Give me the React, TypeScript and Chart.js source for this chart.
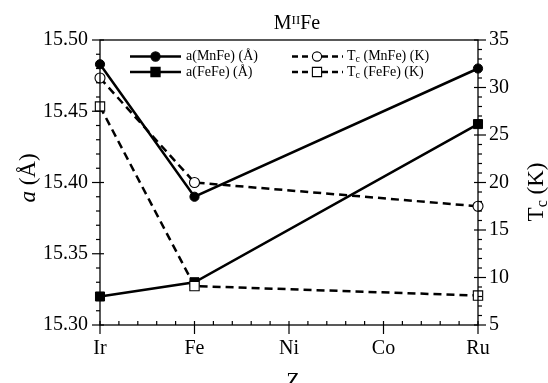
import React, { useEffect, useRef } from 'react';
import { Chart, registerables } from 'chart.js';

Chart.register(...registerables);

// ---- data ----
const categories = ['Ir', 'Fe', 'Ni', 'Co', 'Ru'];
const measuredAt = ['Ir', 'Fe', 'Ru'];
const aMnFe = [15.483, 15.39, 15.48];
const aFeFe = [15.32, 15.33, 15.441];
const tcMnFe = [31.0, 20.0, 17.5];
const tcFeFe = [28.0, 9.1, 8.1];
const leftRange = [15.3, 15.5];
const rightRange = [5, 35];

const SERIF = '"Liberation Serif", "DejaVu Serif", serif';

const toPoints = (vals: number[]) =>
  measuredAt.map((c, i) => ({ x: categories.indexOf(c), y: vals[i] }));

const decorPlugin = {
  id: 'decor',
  afterDraw(chart: any) {
    const { ctx, chartArea } = chart;
    const { left, right, top, bottom } = chartArea;
    const xs = chart.scales.x;
    const ys = chart.scales.y;
    const y2 = chart.scales.y2;
    ctx.save();
    ctx.strokeStyle = '#000';
    ctx.fillStyle = '#000';
    ctx.lineWidth = 1.3;
    ctx.strokeRect(left, top, right - left, bottom - top);

    const line = (x1: number, y1: number, x2: number, y2p: number) => {
      ctx.beginPath();
      ctx.moveTo(x1, y1);
      ctx.lineTo(x2, y2p);
      ctx.stroke();
    };
    ctx.lineWidth = 1.2;
    // x ticks
    for (let i = 0; i <= (categories.length - 1) * 5; i++) {
      const px = xs.getPixelForValue(i / 5);
      if (i % 5 === 0) line(px, bottom - 4, px, bottom + 9);
      else line(px, bottom - 4, px, bottom);
    }
    // left ticks
    const nL = Math.round((leftRange[1] - leftRange[0]) / 0.01);
    for (let i = 0; i <= nL; i++) {
      const py = ys.getPixelForValue(leftRange[0] + i * 0.01);
      if (i % 5 === 0) line(left - 8, py, left + 4, py);
      else line(left - 4, py, left, py);
    }
    // right ticks
    for (let k = rightRange[0]; k <= rightRange[1]; k++) {
      const py = y2.getPixelForValue(k);
      if (k % 5 === 0) line(right - 4, py, right + 8, py);
      else line(right, py, right + 4, py);
    }

    // title M^II Fe
    ctx.textBaseline = 'alphabetic';
    ctx.textAlign = 'left';
    const big = `20px ${SERIF}`;
    const sup = `13px ${SERIF}`;
    ctx.font = big;
    const wM = ctx.measureText('M').width;
    const wFe = ctx.measureText('Fe').width;
    ctx.font = sup;
    const wII = ctx.measureText('II').width;
    const tw = wM + wII + wFe;
    let tx = 297 - tw / 2;
    ctx.font = big;
    ctx.fillText('M', tx, 29);
    tx += wM;
    ctx.font = sup;
    ctx.fillText('II', tx, 23.5);
    tx += wII;
    ctx.font = big;
    ctx.fillText('Fe', tx, 29);

    // left axis title
    ctx.save();
    ctx.translate(35, 178);
    ctx.rotate(-Math.PI / 2);
    const fi = `italic 23px ${SERIF}`;
    const fr = `23px ${SERIF}`;
    ctx.font = fi;
    const wa = ctx.measureText('a').width;
    ctx.font = fr;
    const wr = ctx.measureText(' (Å)').width;
    let ax = -(wa + wr) / 2;
    ctx.font = fi;
    ctx.fillText('a', ax, 0);
    ax += wa;
    ctx.font = fr;
    ctx.fillText(' (Å)', ax, 0);
    ctx.restore();

    // right axis title
    ctx.save();
    ctx.translate(543, 192);
    ctx.rotate(-Math.PI / 2);
    const fs = `16px ${SERIF}`;
    ctx.font = fr;
    const wT = ctx.measureText('T').width;
    const wK = ctx.measureText(' (K)').width;
    ctx.font = fs;
    const wc = ctx.measureText('c').width;
    let rx = -(wT + wc + wK) / 2;
    ctx.font = fr;
    ctx.fillText('T', rx, 0);
    rx += wT;
    ctx.font = fs;
    ctx.fillText('c', rx, 4);
    rx += wc;
    ctx.font = fr;
    ctx.fillText(' (K)', rx, 0);
    ctx.restore();

    // x axis title
    ctx.font = `22px ${SERIF}`;
    ctx.textAlign = 'center';
    ctx.fillText('Z', 293, 387);

    // legend
    const rows = [56.5, 72];
    const drawMarker = (kind: string, x: number, y: number) => {
      ctx.save();
      ctx.setLineDash([]);
      ctx.lineWidth = 1.1;
      ctx.strokeStyle = '#000';
      const filled = kind.startsWith('f');
      ctx.fillStyle = filled ? '#000' : '#fff';
      ctx.beginPath();
      if (kind.endsWith('circle')) ctx.arc(x, y, 4.6, 0, Math.PI * 2);
      else ctx.rect(x - 4.6, y - 4.6, 9.2, 9.2);
      ctx.fill();
      ctx.stroke();
      ctx.restore();
    };
    ctx.lineWidth = 2.5;
    ctx.strokeStyle = '#000';
    // column 1
    ctx.setLineDash([]);
    line(130, rows[0], 181, rows[0]);
    line(130, rows[1], 181, rows[1]);
    drawMarker('fcircle', 155.5, rows[0]);
    drawMarker('fsquare', 155.5, rows[1]);
    ctx.font = `14px ${SERIF}`;
    ctx.textAlign = 'left';
    ctx.textBaseline = 'middle';
    ctx.fillStyle = '#000';
    ctx.fillText('a(MnFe) (Å)', 186, rows[0]);
    ctx.fillText('a(FeFe) (Å)', 186, rows[1]);
    // column 2
    ctx.lineWidth = 2.5;
    ctx.setLineDash([6, 4]);
    line(292, rows[0], 343, rows[0]);
    line(292, rows[1], 343, rows[1]);
    ctx.setLineDash([]);
    drawMarker('ocircle', 317, rows[0]);
    drawMarker('osquare', 317, rows[1]);
    const tcLabel = (name: string, y: number) => {
      let lx = 347;
      ctx.fillStyle = '#000';
      ctx.textBaseline = 'middle';
      ctx.font = `14px ${SERIF}`;
      ctx.fillText('T', lx, y);
      lx += ctx.measureText('T').width;
      ctx.font = `10px ${SERIF}`;
      ctx.fillText('c', lx, y + 3);
      lx += ctx.measureText('c').width;
      ctx.font = `14px ${SERIF}`;
      ctx.fillText(` (${name}) (K)`, lx, y);
    };
    tcLabel('MnFe', rows[0]);
    tcLabel('FeFe', rows[1]);
    ctx.restore();
  },
};

export default function App() {
  const ref = useRef<HTMLCanvasElement | null>(null);
  useEffect(() => {
    if (!ref.current) return;
    const tickFont = { family: SERIF, size: 20 };
    const chart = new Chart(ref.current, {
      type: 'line',
      data: {
        datasets: [
          {
            label: 'a(MnFe) (Å)',
            data: toPoints(aMnFe),
            yAxisID: 'y',
            borderColor: '#000',
            backgroundColor: '#000',
            borderWidth: 2.5,
            pointStyle: 'circle',
            pointRadius: 4.6,
            pointBorderWidth: 1,
            order: 2,
            clip: false,
          },
          {
            label: 'a(FeFe) (Å)',
            data: toPoints(aFeFe),
            yAxisID: 'y',
            borderColor: '#000',
            backgroundColor: '#000',
            borderWidth: 2.5,
            pointStyle: 'rect',
            pointRadius: 6.4,
            pointBorderWidth: 1,
            order: 2,
            clip: false,
          },
          {
            label: 'Tc (MnFe) (K)',
            data: toPoints(tcMnFe),
            yAxisID: 'y2',
            borderColor: '#000',
            backgroundColor: '#fff',
            borderWidth: 2.5,
            borderDash: [8, 5],
            pointStyle: 'circle',
            pointRadius: 5,
            pointBorderWidth: 1.1,
            order: 1,
            clip: false,
          },
          {
            label: 'Tc (FeFe) (K)',
            data: toPoints(tcFeFe),
            yAxisID: 'y2',
            borderColor: '#000',
            backgroundColor: '#fff',
            borderWidth: 2.5,
            borderDash: [8, 5],
            pointStyle: 'rect',
            pointRadius: 6.6,
            pointBorderWidth: 1.1,
            order: 1,
            clip: false,
          },
        ] as any,
      },
      options: {
        animation: false,
        responsive: false,
        devicePixelRatio: 1,
        layout: { padding: { top: 40, left: 0, right: 0, bottom: 0 } },
        plugins: {
          legend: { display: false },
          title: { display: false },
          tooltip: { enabled: false },
        },
        elements: { line: { tension: 0 } },
        scales: {
          x: {
            type: 'linear',
            position: 'bottom',
            min: 0,
            max: categories.length - 1,
            grid: { display: false, drawTicks: false },
            border: { display: false },
            ticks: {
              stepSize: 1,
              padding: 12,
              color: '#000',
              font: tickFont,
              maxRotation: 0,
              autoSkip: false,
              callback: (v: any) => categories[Math.round(Number(v))] ?? '',
            },
            afterFit: (s: any) => {
              s.height = 58;
            },
          },
          y: {
            type: 'linear',
            position: 'left',
            min: leftRange[0],
            max: leftRange[1],
            grid: { display: false, drawTicks: false },
            border: { display: false },
            ticks: {
              stepSize: 0.05,
              padding: 12,
              color: '#000',
              font: tickFont,
              callback: (v: any) => Number(v).toFixed(2),
            },
            afterFit: (s: any) => {
              s.width = 100;
            },
          },
          y2: {
            type: 'linear',
            position: 'right',
            min: rightRange[0],
            max: rightRange[1],
            grid: { display: false, drawTicks: false },
            border: { display: false },
            ticks: {
              stepSize: 5,
              padding: 11,
              color: '#000',
              font: tickFont,
            },
            afterFit: (s: any) => {
              s.width = 70;
            },
          },
        },
      } as any,
      plugins: [decorPlugin],
    });
    return () => chart.destroy();
  }, []);
  return (
    <div style={{ position: 'fixed', left: 0, top: 0, width: 548, height: 383, background: '#fff' }}>
      <canvas ref={ref} width={548} height={383} style={{ width: 548, height: 383, display: 'block' }} />
    </div>
  );
}
